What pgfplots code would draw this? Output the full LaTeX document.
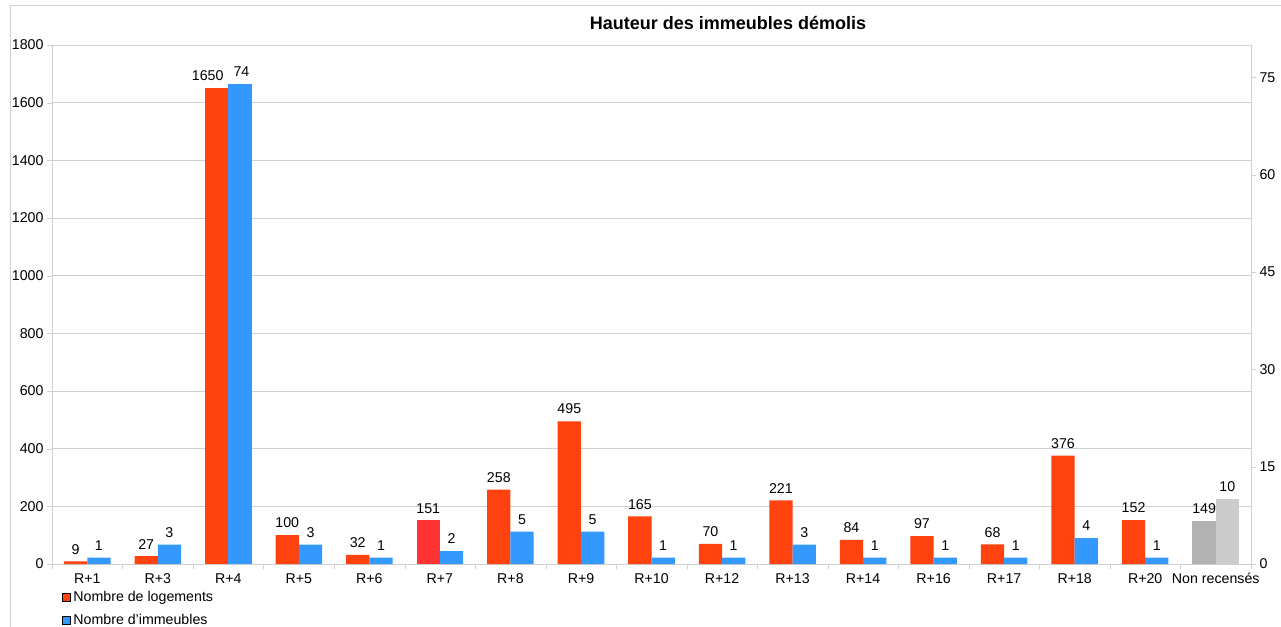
\documentclass[border=0pt]{standalone}
\usepackage{fontspec}
\setmainfont{Liberation Sans}
\usepackage{pgfplots}
\pgfplotsset{compat=1.18}
\definecolor{orng}{HTML}{FF420E}
\definecolor{blu}{HTML}{3399FF}
\definecolor{redseven}{HTML}{FF3333}
\definecolor{grayone}{HTML}{B2B2B2}
\definecolor{graytwo}{HTML}{CCCCCC}
\definecolor{axgray}{HTML}{D0D0D0}
\newcommand{\lbl}{\fontsize{14.2}{17}\selectfont}
\pgfplotsset{
  common/.style={
    scale only axis, width=1199pt, height=519pt,
    at={(52pt,62pt)}, anchor=south west,
    xmin=-0.5, xmax=16.5, ymin=0,
    ybar, bar width=0.33,
    tick align=outside,
    /pgf/number format/assume math mode=true,
    /pgf/number format/1000 sep={},
    tick label style={font=\lbl, black},
    axis line style={axgray},
    major tick length=5pt,
    tick style={axgray},
    nodes near coords,
    every node near coord/.append style={font=\lbl, black, inner sep=2pt, yshift=5pt},
  }
}
\begin{document}
\begin{tikzpicture}
\useasboundingbox (0pt,0pt) rectangle (1281pt,626pt);
\fill[white] (0pt,0pt) rectangle (1281pt,626pt);
\draw[axgray, line width=1pt] (10pt,-5pt) -- (10pt,620pt) -- (1290pt,620pt);
\node[font=\bfseries\fontsize{18}{21}\selectfont] at (728pt,603pt) {Hauteur des immeubles démolis};
\begin{axis}[common,
  ymax=1800, ytick={0,200,...,1800},
  axis x line*=bottom, axis y line*=left,
  ymajorgrids, grid style={axgray},
  xtick={0,...,16},
  xticklabels={R+1,R+3,R+4,R+5,R+6,R+7,R+8,R+9,R+10,R+12,R+13,R+14,R+16,R+17,R+18,R+20,Non recensés},
  major x tick style={draw=none},
  minor xtick={-0.5,0.5,...,16.5},
  minor tick length=5pt,
  minor x tick style={axgray},
  xticklabel style={yshift=-1pt},
  legend image code/.code={\draw[#1] (0pt,-4pt) rectangle (8pt,4pt); \path (0pt,0pt) -- (10pt,0pt);},
  legend style={at={(0,0)}, anchor=north west, xshift=10pt, yshift=-26pt,
    draw=none, fill=none, font=\lbl, row sep=9pt, inner sep=0pt,
    column sep=0pt, nodes={inner sep=1pt}},
  legend cell align=left,
]
\addplot[fill=orng, draw=none, bar shift=-0.165] coordinates {
(0,9) (1,27) (3,100) (4,32) (6,258) (7,495) (8,165) (9,70)
(10,221) (11,84) (12,97) (13,68) (14,376) (15,152)};
\addlegendentry{Nombre de logements}
\addlegendimage{fill=blu, draw=none}
\addlegendentry{Nombre d\symbol{39}immeubles}
\addplot[fill=orng, draw=none, bar shift=-0.165, forget plot,
  every node near coord/.append style={xshift=-9pt}] coordinates {(2,1650)};
\addplot[fill=redseven, draw=none, bar shift=-0.165, forget plot] coordinates {(5,151)};
\addplot[fill=grayone, draw=none, bar shift=-0.165, forget plot] coordinates {(16,149)};
\end{axis}
\begin{axis}[common,
  ymax=80, ytick={0,15,...,75},
  axis x line=none, axis y line*=right,
  yticklabel style={xshift=0pt},
]
\addplot[fill=blu, draw=none, bar shift=0.165] coordinates {
(0,1) (1,3) (3,3) (4,1) (5,2) (6,5) (7,5) (8,1) (9,1)
(10,3) (11,1) (12,1) (13,1) (14,4) (15,1)};
\addplot[fill=blu, draw=none, bar shift=0.165,
  every node near coord/.append style={xshift=1.5pt}] coordinates {(2,74)};
\addplot[fill=graytwo, draw=none, bar shift=0.165] coordinates {(16,10)};
\end{axis}
\end{tikzpicture}
\end{document}
